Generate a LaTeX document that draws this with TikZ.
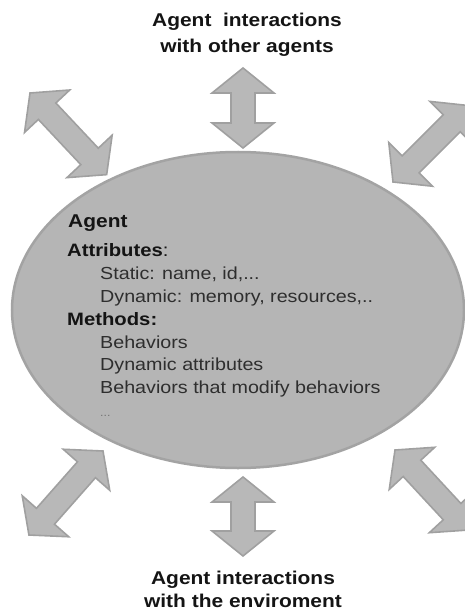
\documentclass[tikz,border=0pt]{standalone}
\usepackage{fontspec}
\setmainfont{Liberation Sans}[FakeStretch=1.13]
\usetikzlibrary{shapes.geometric}

\definecolor{blobfill}{HTML}{B5B5B5}
\definecolor{blobline}{HTML}{A3A3A3}
\definecolor{arrowfill}{HTML}{B8B8B8}
\definecolor{arrowline}{HTML}{A0A0A0}

\tikzset{
  arrowbody/.style={fill=arrowfill, draw=arrowline, line width=1.6bp, line join=miter},
  % double-headed block arrow of length #1, starting at its first tip
  pics/biarrow/.style={code={
    \path[arrowbody] (0,0) -- (25,31) -- (25,12) -- (#1-25,12) -- (#1-25,31)
      -- (#1,0) -- (#1-25,-31) -- (#1-25,-12) -- (25,-12) -- (25,-31) -- cycle;
  }},
  title/.style={font=\bfseries\fontsize{18.6}{22}\selectfont, anchor=base,
    inner sep=0pt, text=black!92},
  head/.style={font=\bfseries\fontsize{18}{22}\selectfont, anchor=base west,
    inner sep=0pt, text=black!92},
  item/.style={font=\fontsize{17.5}{21}\selectfont, anchor=base west,
    inner sep=0pt, text=black!82},
}

\begin{document}
\begin{tikzpicture}[x=1bp, y=-1bp]
  \useasboundingbox (0,0) rectangle (465,614);
  \clip (0,0) rectangle (465,614);

  % the agent body
  \node[ellipse, draw=blobline, fill=blobfill, line width=2.5bp,
        minimum width=452bp, minimum height=316bp, inner sep=0pt]
        (agent) at (238,310) {};

  % interaction arrows around the agent
  \pic[rotate=-90]    at (243,68)  {biarrow=80};
  \pic[rotate=-90]    at (243,477) {biarrow=79};
  \pic[rotate=-46.8]  at (30,93)   {biarrow=112};
  \pic[rotate=45]     at (393,182) {biarrow=108};
  \pic[rotate=-131.4] at (103,451) {biarrow=112};
  \pic[rotate=-47.2]  at (395,450) {biarrow=109};

  % captions
  \node[title] (top1) at (247,27)  {Agent\ \ interactions};
  \node[title] (top2) at (247,53)  {with other agents};
  \node[title] (bot1) at (243,584) {Agent interactions};
  \node[title] (bot2) at (243,607) {with the enviroment};

  % agent description
  \node[head] (name)    at (68,227)  {\fontsize{18.6}{22}\selectfont Agent};
  \node[head] (attrs)   at (67,256)  {Attributes{\mdseries :}};
  \node[item] (static)  at (100,279) {Static: name, id,...};
  \node[item] (dynamic) at (100,302.5) {Dynamic: memory, resources,..};
  \node[head] (methods) at (67,325)  {Methods:};
  \node[item] (beh)     at (100,348) {Behaviors};
  \node[item] (dynattr) at (100,370.5) {Dynamic attributes};
  \node[item] (behmod)  at (100,393) {Behaviors that modify behaviors};
  \node[item, font=\fontsize{11}{13}\selectfont, text=black!55]
        (more) at (100,416) {...};
\end{tikzpicture}
\end{document}
